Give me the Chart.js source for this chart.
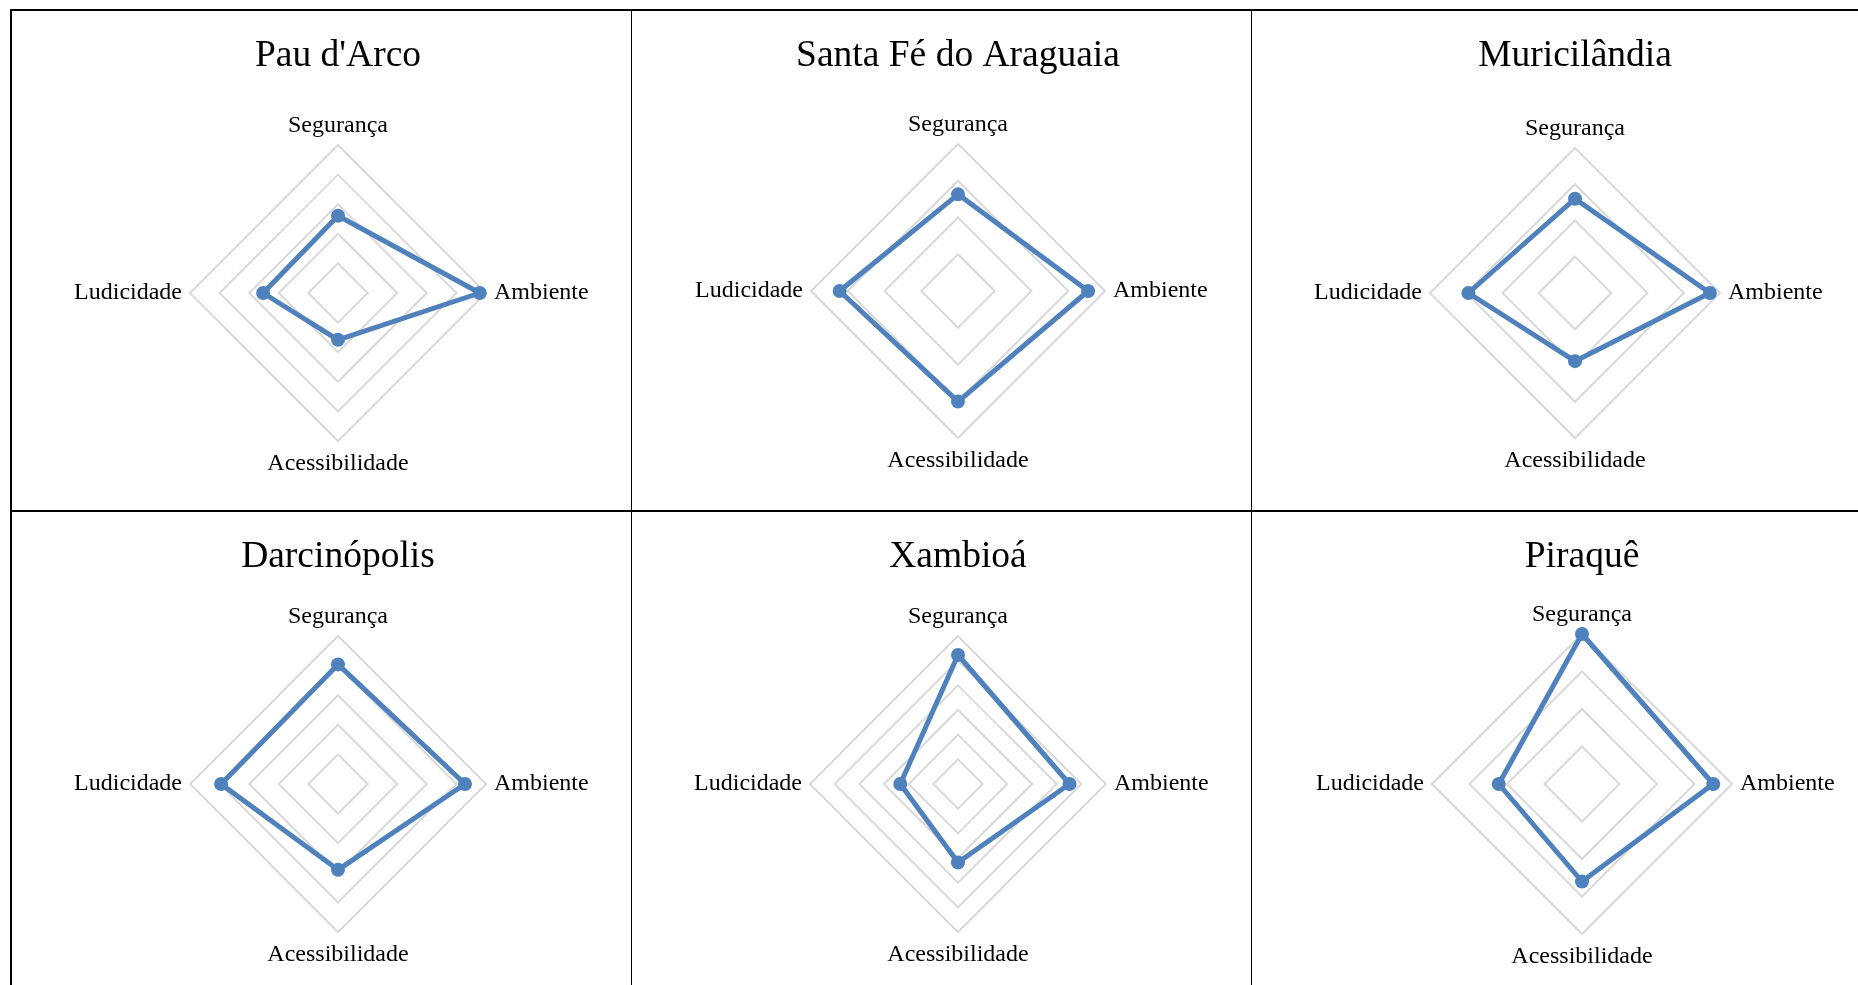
<!DOCTYPE html>
<html>
<head>
<meta charset="utf-8">
<script src="https://cdn.jsdelivr.net/npm/chart.js@4"></script>
<style>
  html, body {
    margin: 0;
    padding: 0;
    background: #fff;
    overflow: hidden;
  }
  #page {
    position: relative;
    width: 1858px;
    height: 985px;
  }
  .rule {
    position: absolute;
    background: #000;
  }
  .panel {
    position: absolute;
    width: 550px;
  }
</style>
</head>
<body>
<div id="page">
  <div class="rule" style="left:10px;top:9px;width:1848px;height:2px"></div>
  <div class="rule" style="left:10px;top:9px;width:2px;height:976px"></div>
  <div class="rule" style="left:631px;top:9px;width:1px;height:976px"></div>
  <div class="rule" style="left:1251px;top:9px;width:1px;height:976px"></div>
  <div class="rule" style="left:10px;top:510px;width:1848px;height:2px"></div>
</div>
<script>
const categories = ["Segurança", "Ambiente", "Acessibilidade", "Ludicidade"];

const cities = [
  "Pau d'Arco",
  "Santa Fé do Araguaia",
  "Muricilândia",
  "Darcinópolis",
  "Xambioá",
  "Piraquê",
];

const pauDArco = [2.61, 4.79, 1.58, 2.53];
const santaFe = [2.63, 3.54, 3.01, 3.22];
const muricilandia = [2.6, 3.72, 1.88, 2.94];
const darcinopolis = [4.04, 4.29, 2.9, 3.95];
const xambioa = [5.23, 4.52, 3.18, 2.34];
const piraque = [4.0, 3.5, 2.6, 2.22];

const seriesValues = [pauDArco, santaFe, muricilandia, darcinopolis, xambioa, piraque];

// axis maximum of each radar (step is 1 everywhere)
const axisMax = [5, 4, 4, 5, 6, 4];

// where each radar sits on the page: center x, canvas top, center y inside canvas, radius
const layout = [
  { cx: 338, top: 10, cy: 283, radius: 148, height: 500 },
  { cx: 958, top: 10, cy: 281, radius: 147, height: 500 },
  { cx: 1575, top: 10, cy: 283, radius: 145, height: 500 },
  { cx: 338, top: 511, cy: 273, radius: 148, height: 474 },
  { cx: 958, top: 511, cy: 273, radius: 148, height: 474 },
  { cx: 1582, top: 511, cy: 273, radius: 150, height: 474 },
];

const lineColor = "#4F81BD";
const gridColor = "#D9D9D9";

Chart.defaults.font.family = "'Liberation Serif', 'Times New Roman', serif";
Chart.defaults.color = "#000";

// keep the radar where the original sits instead of letting the scale fit it
const fixedCenter = {
  id: "fixedCenter",
  beforeLayout(chart, args, opts) {
    const scale = chart.scales.r;
    scale.setCenterPoint = function () {
      this.xCenter = Math.round(chart.width / 2);
      this.yCenter = opts.cy;
      this.drawingArea = opts.radius;
    };
  },
};

function makePanel(i) {
  const pos = layout[i];
  const box = document.createElement("div");
  box.className = "panel";
  box.style.left = pos.cx - 275 + "px";
  box.style.top = pos.top + "px";
  box.style.height = pos.height + "px";
  const canvas = document.createElement("canvas");
  box.appendChild(canvas);
  document.getElementById("page").appendChild(box);

  new Chart(canvas, {
    type: "radar",
    data: {
      labels: categories,
      datasets: [
        {
          label: cities[i],
          data: seriesValues[i],
          fill: false,
          borderColor: lineColor,
          backgroundColor: lineColor,
          borderWidth: 5,
          borderJoinStyle: "round",
          pointRadius: 7,
          pointBorderWidth: 0,
          pointBackgroundColor: lineColor,
          tension: 0,
        },
      ],
    },
    options: {
      responsive: true,
      maintainAspectRatio: false,
      animation: false,
      layout: { padding: 0 },
      plugins: {
        legend: { display: false },
        tooltip: { enabled: false },
        title: {
          display: true,
          text: cities[i],
          color: "#000",
          font: { size: 37.5, weight: "normal" },
          padding: { top: 24, bottom: 0 },
        },
        fixedCenter: { cy: pos.cy, radius: pos.radius },
      },
      scales: {
        r: {
          min: 0,
          max: axisMax[i],
          ticks: { display: false, stepSize: 1 },
          angleLines: { display: false },
          grid: { color: gridColor, lineWidth: 2 },
          pointLabels: {
            color: "#000",
            font: { size: 24 },
            padding: (ctx) => (ctx.index === 0 ? 5 : 8),
          },
        },
      },
    },
    plugins: [fixedCenter],
  });
}

for (let i = 0; i < cities.length; i++) {
  makePanel(i);
}
</script>
</body>
</html>
